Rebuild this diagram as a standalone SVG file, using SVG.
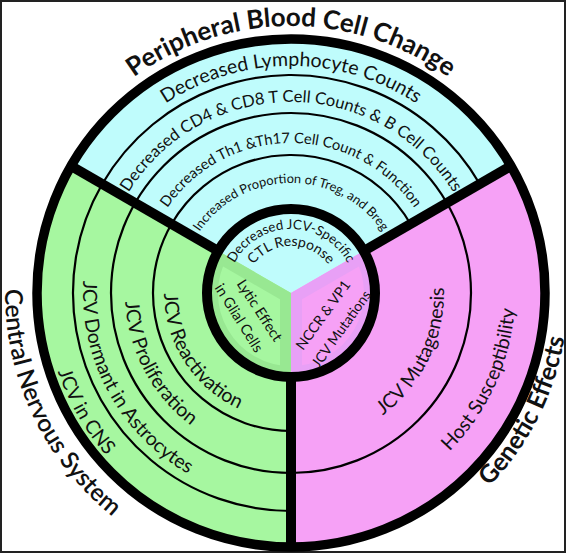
<svg xmlns="http://www.w3.org/2000/svg" width="568" height="556" viewBox="0 0 568 556">
<style>
.t{font-family:Lato,"Liberation Sans",sans-serif;fill:#111}
.hd{font-weight:bold}
.thin{fill:none;stroke:#000;stroke-width:2.2}
.thick{fill:none;stroke:#000;stroke-width:10}
</style>
<defs>
<path id="pTitle" d="M28.06,246.64 A267,267 0 0 1 553.94,246.64"/>
<path id="pLym" d="M67.43,253.58 A227,227 0 0 1 514.57,253.58"/>
<path id="pCD" d="M102.90,259.83 A191,191 0 0 1 479.10,259.83"/>
<path id="pTh" d="M143.28,266.95 A150,150 0 0 1 438.72,266.95"/>
<path id="pTreg" d="M182.67,273.90 A110,110 0 0 1 399.33,273.90"/>
<path id="pJCV" d="M227.98,281.89 A64,64 0 0 1 354.02,281.89"/>
<path id="pCTL" d="M244.71,284.84 A47,47 0 0 1 337.29,284.84"/>
<path id="pReact" d="M204.39,200.12 A127,127 0 0 0 340.62,409.90"/>
<path id="pProl" d="M188.80,162.19 A166,166 0 0 0 342.30,450.88"/>
<path id="pDorm" d="M161.52,130.22 A208,208 0 0 0 357.00,490.25"/>
<path id="pInCNS" d="M132.87,104.55 A246,246 0 0 0 375.14,524.16"/>
<path id="pCNS" d="M125.73,59.58 A286,286 0 0 0 366.47,568.87"/>
<path id="pMut" d="M249.86,440.36 A153,153 0 0 0 380.06,168.60"/>
<path id="pHost" d="M234.91,509.87 A224,224 0 0 0 417.88,108.39"/>
<path id="pGen" d="M210.94,558.18 A277,277 0 0 0 456.93,71.20"/>
<clipPath id="cG"><path d="M291,293 L291,377 A84,84 0 0 1 218.25,251 Z"/></clipPath>
<clipPath id="cP"><path d="M291,293 L363.75,251 A84,84 0 0 1 291,377 Z"/></clipPath>
</defs>
<rect x="1" y="1" width="564" height="551" fill="#fff" stroke="#222" stroke-width="2"/>

<g id="sector-peripheral-blood">
<path d="M291,293 L71.03,166 A254,254 0 0 1 510.97,166 Z" fill="#bffcfc"/>
<text class="t hd" font-size="26"><textPath href="#pTitle" startOffset="50%" text-anchor="middle">Peripheral Blood Cell Change</textPath></text>
<text class="t" font-size="19.5"><textPath href="#pLym" startOffset="50%" text-anchor="middle">Decreased Lymphocyte Counts</textPath></text>
<text class="t" font-size="16.6"><textPath href="#pCD" startOffset="50%" text-anchor="middle">Decreased CD4 &amp; CD8 T Cell Counts &amp; B Cell Counts</textPath></text>
<text class="t" font-size="14.7"><textPath href="#pTh" startOffset="50%" text-anchor="middle">Decreased Th1 &amp;Th17 Cell Count &amp; Function</textPath></text>
<text class="t" font-size="12.8"><textPath href="#pTreg" startOffset="50%" text-anchor="middle">Increased Proportion of Treg, and Breg</textPath></text>
</g>

<g id="sector-cns">
<path d="M291,293 L291,547 A254,254 0 0 1 71.03,166 Z" fill="#a6f7a0"/>
<text class="t" font-size="19.5"><textPath href="#pReact" startOffset="50%" text-anchor="middle">JCV Reactivation</textPath></text>
<text class="t" font-size="19.5"><textPath href="#pProl" startOffset="50%" text-anchor="middle">JCV Proliferation</textPath></text>
<text class="t" font-size="19.5"><textPath href="#pDorm" startOffset="50%" text-anchor="middle">JCV Dormant in Astrocytes</textPath></text>
<text class="t" font-size="19.5"><textPath href="#pInCNS" startOffset="50%" text-anchor="middle">JCV in CNS</textPath></text>
<text class="t" font-size="24.5" font-weight="600"><textPath href="#pCNS" startOffset="50%" text-anchor="middle">Central Nervous System</textPath></text>
</g>

<g id="sector-genetic">
<path d="M291,293 L510.97,166 A254,254 0 0 1 291,547 Z" fill="#f6a1f6"/>
<text class="t" font-size="19.5"><textPath href="#pMut" startOffset="50%" text-anchor="middle">JCV Mutagenesis</textPath></text>
<text class="t" font-size="19.5"><textPath href="#pHost" startOffset="50%" text-anchor="middle">Host Susceptibility</textPath></text>
<text class="t hd" font-size="25"><textPath href="#pGen" startOffset="50%" text-anchor="middle">Genetic Effects</textPath></text>
</g>

<g id="connectors">
<path class="thin" d="M291,431 A138,138 0 1 1 410.51,224"/>
<circle class="thin" cx="291" cy="293" r="180"/>
<path class="thin" d="M291,511 A218,218 0 1 1 479.79,184"/>
<line class="thick" x1="291" y1="377" x2="291" y2="549"/>
<line class="thick" x1="218.25" y1="251" x2="69.3" y2="165"/>
<line class="thick" x1="363.75" y1="251" x2="512.7" y2="165"/>
<circle cx="291" cy="293" r="254" fill="none" stroke="#000" stroke-width="9.5"/>
</g>

<g id="center">
<path d="M291,293 L218.25,251 A84,84 0 0 1 363.75,251 Z" fill="#bffcfc"/>
<path d="M291,293 L291,377 A84,84 0 0 1 218.25,251 Z" fill="#a6f7a0"/>
<path d="M291,293 L291,377 A84,84 0 0 1 218.25,251 Z" fill="none" stroke="#98e892" stroke-width="22" clip-path="url(#cG)"/>
<path d="M291,293 L363.75,251 A84,84 0 0 1 291,377 Z" fill="#f6a1f6"/>
<path d="M291,293 L363.75,251 A84,84 0 0 1 291,377 Z" fill="none" stroke="#e8a0f6" stroke-width="22" clip-path="url(#cP)"/>
<circle cx="291" cy="293" r="84" fill="none" stroke="#000" stroke-width="10"/>
<text class="t" font-size="13.4"><textPath href="#pJCV" startOffset="50%" text-anchor="middle">Decreased JCV-Specific</textPath></text>
<text class="t" font-size="14"><textPath href="#pCTL" startOffset="50%" text-anchor="middle">CTL Response</textPath></text>
<text class="t" font-size="14.5" text-anchor="middle" transform="translate(259.5,310.5) rotate(57)" y="5">Lytic Effect</text>
<text class="t" font-size="14.5" text-anchor="middle" transform="translate(239,318) rotate(58)" y="5">in Glial Cells</text>
<text class="t" font-size="14.2" text-anchor="middle" transform="translate(323,315) rotate(-54)" y="5">NCCR &amp; VP1</text>
<text class="t" font-size="14" text-anchor="middle" transform="translate(341,329) rotate(-54.5)" y="5">JCV Mutations</text>
</g>
</svg>
